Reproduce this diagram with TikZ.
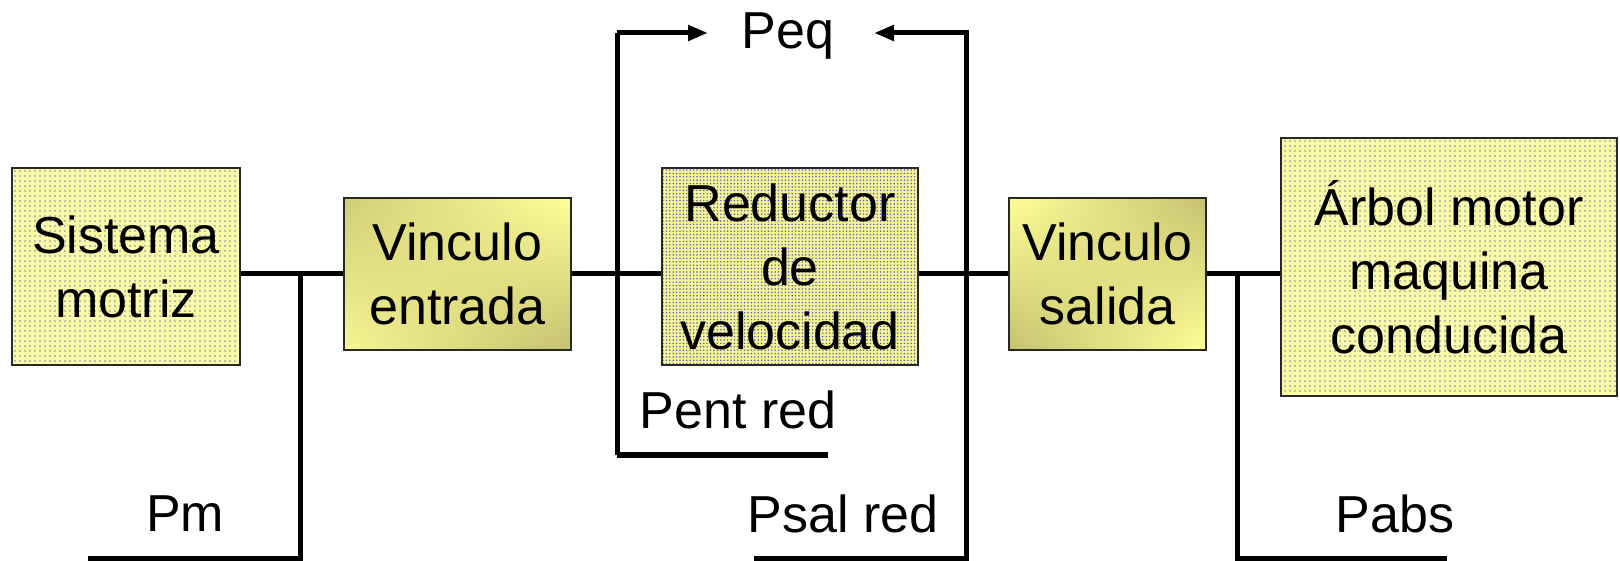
\documentclass[tikz,border=0pt]{standalone}
\usepackage{fontspec}
\setmainfont{Liberation Sans}
\usetikzlibrary{arrows.meta,patterns.meta,shadings}
\definecolor{ybase}{RGB}{250,252,168}
\definecolor{ydots}{RGB}{125,125,175}
\definecolor{rbase}{RGB}{245,245,150}
\definecolor{rdots}{RGB}{95,95,180}
\definecolor{olive}{RGB}{198,192,112}
\definecolor{lyel}{RGB}{255,255,152}
\definecolor{bord}{RGB}{40,40,40}
\tikzset{
  lbl/.style={font=\fontsize{52}{64}\selectfont, inner sep=0pt},
  boxbase/.style={draw=bord, line width=2pt, inner sep=0pt, align=center,
    font=\fontsize{52}{64}\selectfont},
  dotbox/.style={boxbase, preaction={fill=ybase},
    pattern={Dots[distance=5pt, radius=0.9pt]}, pattern color=ydots},
  densebox/.style={boxbase, preaction={fill=rbase},
    pattern={Dots[distance=3.4pt, radius=0.85pt]}, pattern color=rdots},
  shadebox/.style={boxbase, shade},
  wire/.style={line width=5pt, line join=miter},
  arr/.style={wire, -{Triangle[length=20pt,width=15pt]}}
}
\begin{document}
\begin{tikzpicture}[x=1pt,y=-1pt]
\useasboundingbox (0,0) rectangle (1620,561);
% boxes
\node[dotbox, minimum width=228pt, minimum height=197pt] (sm) at (126,266.5) {Sistema\\motriz};
\node[shadebox, upper left=olive!80!lyel, upper right=lyel, lower left=lyel!85!olive, lower right=olive,
  minimum width=227pt, minimum height=152pt] (ve) at (457.5,274) {Vinculo\\entrada};
\node[densebox, minimum width=256pt, minimum height=197pt] (rv) at (790,266.5) {Reductor\\de\\velocidad};
\node[shadebox, upper left=lyel, upper right=olive, lower left=olive, lower right=lyel,
  minimum width=197pt, minimum height=152pt] (vs) at (1107.5,274) {Vinculo\\salida};
\node[dotbox, minimum width=336pt, minimum height=258pt] (am) at (1449,267) {Árbol motor\\maquina\\conducida};
% main shaft
\draw[wire] (sm.east |- ve.west) -- (ve.west);
\draw[wire] (ve.east) -- (rv.west |- ve.east);
\draw[wire] (rv.east |- vs.west) -- (vs.west);
\draw[wire] (vs.east) -- (am.west |- vs.east);
% coordinates
\coordinate (pmT) at (300,274);
\coordinate (pmB) at (300,558);
\coordinate (pmE) at (88,558);
\coordinate (peE) at (828,455);
\coordinate (peB) at (617,455);
\coordinate (peT) at (617,33);
\coordinate (peA) at (708,33);
\coordinate (psE) at (754,558);
\coordinate (psB) at (966,558);
\coordinate (psT) at (966,33);
\coordinate (psA) at (874,33);
\coordinate (paT) at (1237,274);
\coordinate (paB) at (1237,558);
\coordinate (paE) at (1447,558);
% branches
\draw[wire] (pmT) -- (pmB) -- (pmE);
\draw[wire] (peB) -- (peT);
\draw[arr] (peT) -- (peA);
\draw[line width=6pt] (peB) -- (peE);
\draw[arr] (psE) -- (psB) -- (psT) -- (psA);
\draw[wire] (paT) -- (paB) -- (paE);
% labels
\node[lbl] (peq) at (788,36) {Peq};
\node[lbl] (pent) at (738,410) {Pent red};
\node[lbl] (pm) at (185,514) {Pm};
\node[lbl] (psal) at (843,514) {Psal red};
\node[lbl] (pabs) at (1395,514) {Pabs};
\end{tikzpicture}
\end{document}
